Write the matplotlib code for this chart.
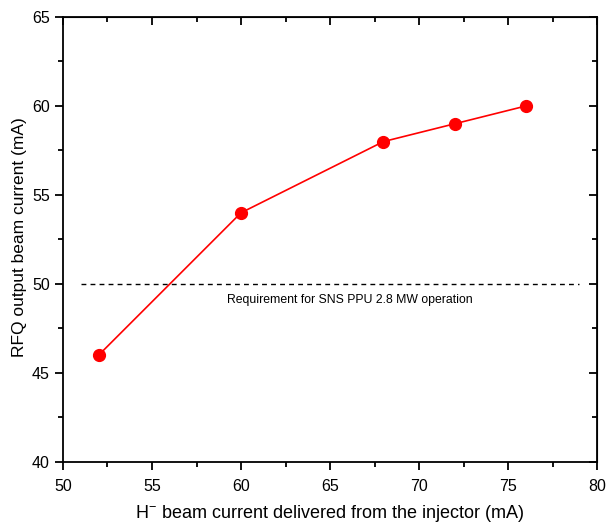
import matplotlib
matplotlib.use("Agg")
import matplotlib.pyplot as plt
from matplotlib.ticker import MultipleLocator

plt.rcParams['font.family'] = ['Liberation Sans', 'DejaVu Sans']
plt.rcParams['mathtext.fontset'] = 'custom'
plt.rcParams['mathtext.rm'] = 'Liberation Sans'

injector_current = [52, 60, 68, 72, 76]
rfq_current = [46, 54, 58, 59, 60]
requirement = 50
req_x = [51, 79]
req_label = "Requirement for SNS PPU 2.8 MW operation"

fig = plt.figure(figsize=(6.08, 5.26), dpi=100)
ax = fig.add_axes([0.1036, 0.1217, 0.8784, 0.846])

ax.plot(injector_current, rfq_current, color='#ff0000', lw=1.2, marker='o', ms=8.5)
ax.plot(req_x, [requirement, requirement], color='black', ls=(0, (3.5, 3)), lw=1.0)
ax.text(66.1, 49.1, req_label, ha='center', va='center', fontsize=8.8)

ax.set_xlim(50, 80)
ax.set_ylim(40, 65)
ax.xaxis.set_major_locator(MultipleLocator(5))
ax.xaxis.set_minor_locator(MultipleLocator(2.5))
ax.yaxis.set_major_locator(MultipleLocator(5))
ax.yaxis.set_minor_locator(MultipleLocator(2.5))

for s in ax.spines.values():
    s.set_linewidth(1.3)

ax.tick_params(which='both', direction='out', top=False, right=False, width=1.3)
ax.tick_params(which='major', length=6, labelsize=11.5)
ax.tick_params(which='minor', length=3.5)
ax.tick_params(axis='x', which='major', pad=6)
sec_x = ax.secondary_xaxis('top')
sec_x.xaxis.set_major_locator(MultipleLocator(5))
sec_x.xaxis.set_minor_locator(MultipleLocator(2.5))
sec_x.tick_params(which='both', direction='in', labeltop=False, width=1.3)
sec_x.tick_params(which='major', length=6)
sec_x.tick_params(which='minor', length=3.5)
sec_y = ax.secondary_yaxis('right')
sec_y.yaxis.set_major_locator(MultipleLocator(5))
sec_y.yaxis.set_minor_locator(MultipleLocator(2.5))
sec_y.tick_params(which='both', direction='in', labelright=False, width=1.3)
sec_y.tick_params(which='major', length=6)
sec_y.tick_params(which='minor', length=3.5)

ax.set_xlabel(r'H$^{\mathregular{-}}$ beam current delivered from the injector (mA)', fontsize=13)
ax.xaxis.label.set_va('center')
ax.xaxis.set_label_coords(0.5, -0.115)
ax.set_ylabel('RFQ output beam current (mA)', fontsize=12.5)
ax.yaxis.label.set_va('center')
ax.yaxis.set_label_coords(-0.082, 0.506)

fig.savefig('out.png', dpi=100)
